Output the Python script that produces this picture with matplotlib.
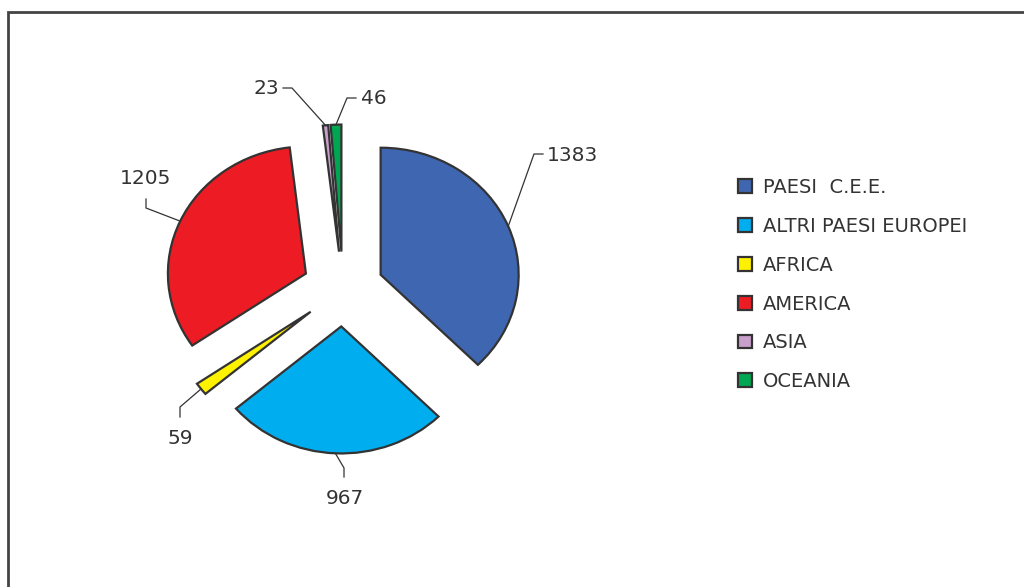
import matplotlib
matplotlib.use("Agg")
import math
import matplotlib.pyplot as plt
from matplotlib.patches import Rectangle

# data
regions = ["PAESI  C.E.E.", "ALTRI PAESI EUROPEI", "AFRICA", "AMERICA", "ASIA", "OCEANIA"]
counts = [1383, 967, 59, 1205, 23, 46]
colors = ["#3F67B1", "#00AEEF", "#FFF200", "#ED1C24", "#C9A0CB", "#00A651"]

# layout (pixels of the 1024x587 picture); the pie is a bit wider than tall
W, H = 1024, 587
CX, CY, RX, RY = 343, 289, 138, 127

# label text position, alignment, and the elbow of each leader line
label_pos = [(547, 155, "left"), (345, 498, "center"), (180, 438, "center"),
             (146, 178, "center"), (279, 88, "right"), (361, 98, "left")]
elbows = [[(534, 154), (543, 154)], [(344, 468), (344, 477)], [(180, 407), (180, 417)],
          [(146, 208), (146, 199)], [(292, 88), (283, 88)], [(347, 98), (356, 98)]]


def px(x, y):
    return (x - CX) / RX, (CY - y) / RY


fig = plt.figure(figsize=(W / 100, H / 100), dpi=100)
ax = fig.add_axes([0, 0, 1, 1])

wedges, _ = ax.pie(counts, colors=colors, startangle=90, counterclock=False,
                   explode=[0.295] * len(counts), radius=1,
                   wedgeprops=dict(edgecolor="#333333", linewidth=1.6))

ax.set_xlim(px(0, 0)[0], px(W, 0)[0])
ax.set_ylim(px(0, H)[1], px(0, 0)[1])
ax.set_aspect("auto")
ax.axis("off")

for w, v, (tx, ty, ha), elb in zip(wedges, counts, label_pos, elbows):
    mid = math.radians(0.5 * (w.theta1 + w.theta2))
    ax0 = w.center[0] + w.r * math.cos(mid)
    ay0 = w.center[1] + w.r * math.sin(mid)
    xs = [ax0] + [px(*p)[0] for p in elb]
    ys = [ay0] + [px(*p)[1] for p in elb]
    ax.plot(xs, ys, color="#333333", lw=0.9)
    ax.text(*px(tx, ty), str(v), ha=ha, va="center", fontsize=14.5, color="#333333")

ax.legend(wedges, regions, loc="upper left",
          bbox_to_anchor=(738 / W, 1 - 178 / H), bbox_transform=fig.transFigure,
          frameon=False, fontsize=14, labelspacing=1.02, handlelength=0.72,
          handleheight=0.72, handletextpad=0.55, borderpad=0, borderaxespad=0,
          labelcolor="#333333")

# outer frame, running off the right and bottom edges
fig.patches.append(Rectangle((8 / W, -0.1), 1.2, 1.1 - 12 / H, transform=fig.transFigure,
                             fill=False, edgecolor="#444444", linewidth=2, figure=fig))

fig.savefig("out.png", dpi=100)
